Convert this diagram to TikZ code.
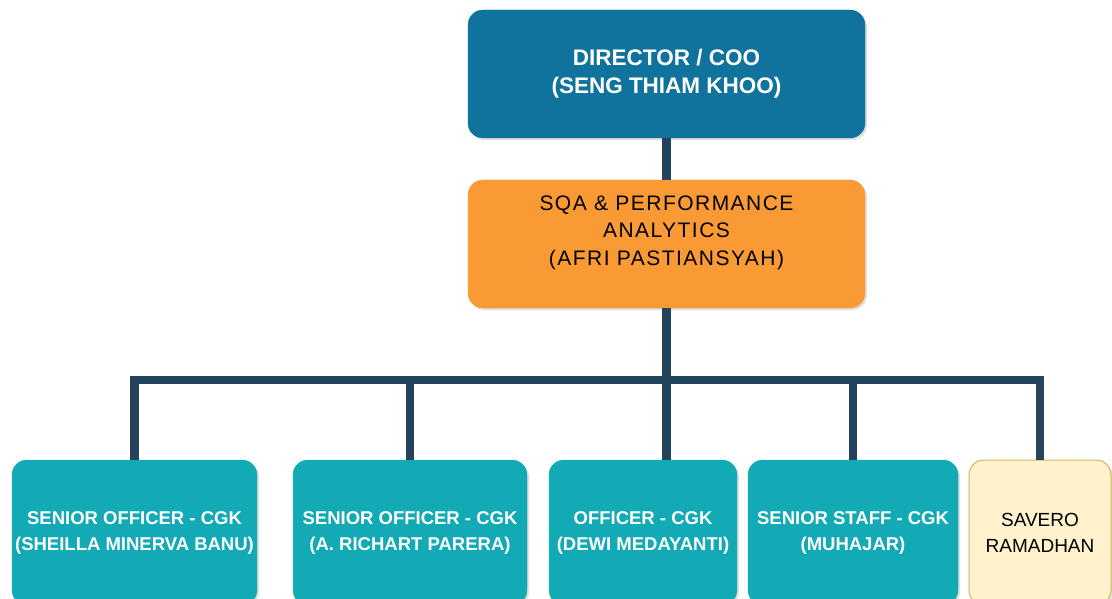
\documentclass[tikz,border=0pt]{standalone}
\usepackage{fontspec}
\setmainfont{Liberation Sans}
\newfontfamily\spacedfont[LetterSpace=7]{Liberation Sans}
\usetikzlibrary{positioning,shadows}

\definecolor{dirblue}{HTML}{10739E}
\definecolor{sqaorange}{HTML}{FA9A35}
\definecolor{staffteal}{HTML}{12AAB5}
\definecolor{internfill}{HTML}{FFF2CC}
\definecolor{internline}{HTML}{D6B656}
\definecolor{linkblue}{HTML}{23445D}

\begin{document}
\begin{tikzpicture}[x=1pt,y=-1pt,
  box/.style={rectangle,rounded corners=15pt,inner sep=0pt,outer sep=0pt,align=center,
    drop shadow={shadow xshift=2pt,shadow yshift=-2pt,opacity=0.25}},
  head/.style={box,fill=dirblue,draw=dirblue,minimum width=397pt,minimum height=128pt,
    text=white,font=\bfseries\fontsize{22.5}{28}\selectfont},
  unit/.style={box,fill=sqaorange,draw=sqaorange,minimum width=397pt,minimum height=128pt,
    text=black,font=\spacedfont\fontsize{21}{27.5}\selectfont},
  staff/.style={box,fill=staffteal,draw=staffteal,minimum height=145pt,
    text=white,font=\bfseries\fontsize{18.5}{26}\selectfont},
  intern/.style={box,fill=internfill,draw=internline,line width=1pt,minimum height=145pt,
    text=black,font=\fontsize{19}{26}\selectfont},
  link/.style={draw=linkblue,line width=8.5pt}]
  \useasboundingbox (0,0) rectangle (1112,599);
  \clip (0,0) rectangle (1112,599);

  \node[head]                      (dir) at (666.5,74) {DIRECTOR / COO\\(SENG THIAM KHOO)};
  \node[unit]                      (sqa) [below=42pt of dir] {SQA \& PERFORMANCE\\ANALYTICS\\(AFRI PASTIANSYAH)\\\mbox{}};
  \node[staff,minimum width=245pt] (s1) at (134.5,532.5) {SENIOR OFFICER - CGK\\(SHEILLA MINERVA BANU)};
  \node[staff,minimum width=234pt] (s2) [right=36pt of s1] {SENIOR OFFICER - CGK\\(A. RICHART PARERA)};
  \node[staff,minimum width=188pt] (s3) [right=22pt of s2] {OFFICER - CGK\\(DEWI MEDAYANTI)};
  \node[staff,minimum width=210pt] (s4) [right=11pt of s3] {SENIOR STAFF - CGK\\(MUHAJAR)};
  \node[intern,minimum width=142pt] (s5) [right=11pt of s4] {SAVERO\\RAMADHAN};

  % reporting lines
  \coordinate (bus) at (0,380);
  \draw[link] (dir.south) -- (sqa.north);
  \draw[link] (sqa.south) -- (sqa.south |- bus) -| (s1.north);
  \draw[link] (sqa.south) -- (sqa.south |- bus) -| (s2.north);
  \draw[link] (sqa.south) -- (sqa.south |- s3.north);
  \draw[link] (sqa.south) -- (sqa.south |- bus) -| (s4.north);
  \draw[link] (sqa.south) -- (sqa.south |- bus) -| (s5.north);
\end{tikzpicture}
\end{document}
